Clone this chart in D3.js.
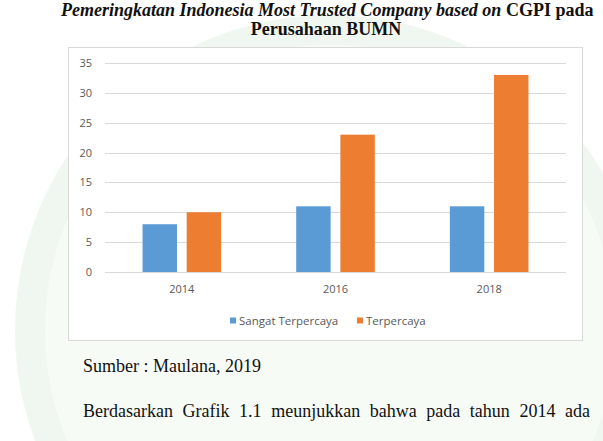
<!DOCTYPE html>
<html>
<head>
<meta charset="utf-8">
<script src="https://cdn.jsdelivr.net/npm/d3@7"></script>
<style>
  body { margin: 0; background: #fff; }
  svg { display: block; }
</style>
</head>
<body>
<div id="chart"></div>
<script>
const years = ['2014', '2016', '2018']
const seriesNames = ['Sangat Terpercaya', 'Terpercaya']
const sangatTerpercaya = [8, 11, 11]
const terpercaya = [10, 23, 33]
const yTicks = [0, 5, 10, 15, 20, 25, 30, 35]
const colors = ['#5B9BD5', '#ED7D31']

const W = 603, H = 441
const svg = d3.select('#chart').append('svg').attr('width', W).attr('height', H)

// faint watermark (page background emblem)
svg.append('rect').attr('width', W).attr('height', H).attr('fill', '#fff')
svg.append('circle').attr('cx', 330).attr('cy', 330).attr('r', 300)
  .attr('fill', '#f6fbf6').attr('stroke', '#f0f7f0').attr('stroke-width', 30)

const serif = 'Liberation Serif, Times New Roman, serif'

// title (two lines, partly italic)
const t1 = svg.append('text')
  .attr('x', 61).attr('y', 16)
  .style('font-family', serif)
  .style('font-size', '18px').style('font-weight', 'bold').attr('fill', '#111')
t1.append('tspan').style('font-style', 'italic').text('Pemeringkatan Indonesia Most Trusted Company based on ')
t1.append('tspan').text('CGPI pada')
svg.append('text')
  .attr('x', 326).attr('y', 35)
  .attr('text-anchor', 'middle')
  .style('font-family', serif)
  .style('font-size', '18px').style('font-weight', 'bold').attr('fill', '#111')
  .text('Perusahaan BUMN')

// chart frame
svg.append('rect')
  .attr('x', 68.5).attr('y', 47.5).attr('width', 514).attr('height', 293)
  .attr('fill', '#fff').attr('stroke', '#d9d9d9')

const plot = { left: 105, right: 566, top: 63, bottom: 272 }

const x = d3.scaleBand().domain(years).range([plot.left, plot.right])
const x1 = d3.scaleBand().domain(seriesNames).range([0, x.bandwidth()]).paddingInner(0.22).paddingOuter(0.85)
const y = d3.scaleLinear().domain([0, 35]).range([plot.bottom, plot.top])

// gridlines
svg.append('g').selectAll('line').data(yTicks).enter().append('line')
  .attr('x1', plot.left).attr('x2', plot.right)
  .attr('y1', d => Math.round(y(d)) + 0.5).attr('y2', d => Math.round(y(d)) + 0.5)
  .attr('stroke', '#d9d9d9')

const font = 'Open Sans, Calibri, sans-serif'

// y axis labels
const yAxis = d3.axisLeft(y).tickValues(yTicks).tickSize(0).tickPadding(13)
svg.append('g').attr('transform', 'translate(' + plot.left + ',0)').call(yAxis)
  .call(g => g.select('.domain').remove())
  .selectAll('text').style('font-family', font).style('font-size', '11px').attr('fill', '#595959')

// x axis labels
const xAxis = d3.axisBottom(x).tickSize(0).tickPadding(13)
svg.append('g').attr('transform', 'translate(0,' + plot.bottom + ')').call(xAxis)
  .call(g => g.select('.domain').remove())
  .selectAll('text').style('font-family', font).style('font-size', '11px').attr('fill', '#595959')

// bars
const rows = years.map((yr, i) => ({ year: yr, values: [sangatTerpercaya[i], terpercaya[i]] }))
const groups = svg.append('g').selectAll('g').data(rows).enter().append('g')
  .attr('transform', d => 'translate(' + x(d.year) + ',0)')
groups.selectAll('rect').data(d => d.values.map((v, j) => ({ name: seriesNames[j], value: v, j: j })))
  .enter().append('rect')
  .attr('x', d => x1(d.name))
  .attr('width', x1.bandwidth())
  .attr('y', d => y(d.value))
  .attr('height', d => y(0) - y(d.value))
  .attr('fill', d => colors[d.j])

// legend
const legendX = [230, 357]
const legend = svg.append('g').selectAll('g').data(seriesNames).enter().append('g')
  .attr('transform', (d, i) => 'translate(' + legendX[i] + ',317.5)')
legend.append('rect').attr('width', 6).attr('height', 6).attr('fill', (d, i) => colors[i])
legend.append('text').attr('x', 9).attr('y', 7)
  .style('font-family', font).style('font-size', '11.5px').attr('fill', '#595959')
  .text(d => d)

// text below the chart
svg.append('text').attr('x', 83).attr('y', 372)
  .style('font-family', serif).style('font-size', '18px').attr('fill', '#111')
  .text('Sumber : Maulana, 2019')

const words = ['Berdasarkan', 'Grafik', '1.1', 'meunjukkan', 'bahwa', 'pada', 'tahun', '2014', 'ada']
const para = svg.append('text').attr('y', 417)
  .style('font-family', serif).style('font-size', '18px').attr('fill', '#111')
// justify the line between x=83 and x=590
const tmp = para.selectAll('tspan').data(words).enter().append('tspan').text(d => d)
const widths = []
tmp.each(function () { widths.push(this.getComputedTextLength()) })
const gap = (590 - 83 - d3.sum(widths)) / (words.length - 1)
let cx = 83
tmp.attr('x', (d, i) => { const v = cx; cx += widths[i] + gap; return v })
</script>
</body>
</html>
